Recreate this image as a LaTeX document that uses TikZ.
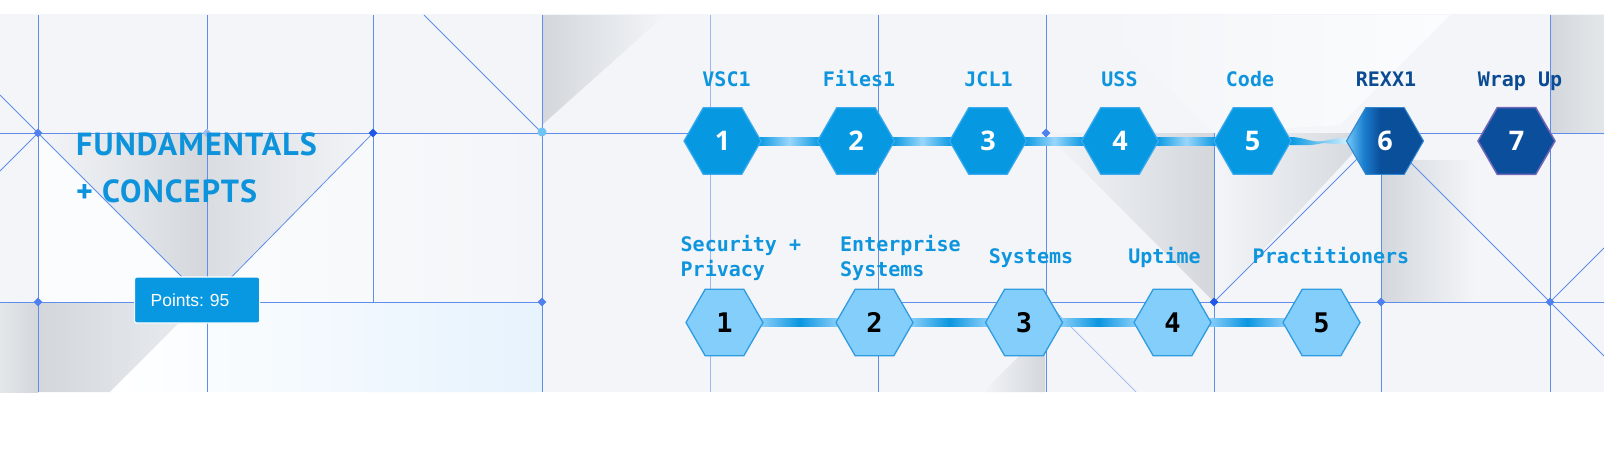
\documentclass[tikz,border=0pt]{standalone}
\usepackage{fontspec}
\usetikzlibrary{shapes.geometric,calc}
\newfontfamily\monof{DejaVu Sans Mono}
\newfontfamily\titlef{PT Sans}[LetterSpace=3.5]
\newfontfamily\digf{Open Sans}
\newfontfamily\ptsf{Liberation Sans}
\definecolor{bandc}{HTML}{F3F5F8}
\definecolor{whitec}{HTML}{FBFCFD}
\definecolor{grayd}{HTML}{D3D7DC}
\definecolor{graym}{HTML}{E4E7EA}
\definecolor{glc}{HTML}{5F8EEA}
\definecolor{glight}{HTML}{9BB8F2}
\definecolor{dotd}{HTML}{1F58E8}
\definecolor{dotm}{HTML}{4F80F0}
\definecolor{dotc}{HTML}{70C4F5}
\definecolor{labblue}{HTML}{0E95DD}
\definecolor{labdark}{HTML}{0B4B93}
\definecolor{hexblue}{HTML}{0798E2}
\definecolor{hexedge}{HTML}{3AAAF0}
\definecolor{hexlight}{HTML}{84CEFB}
\definecolor{hexledge}{HTML}{2F9BE0}
\definecolor{barlight}{HTML}{8ACFF9}
\definecolor{barmid}{HTML}{9AD6FA}
\definecolor{barblue}{HTML}{0A96E0}
\definecolor{hexseven}{HTML}{0B4F9C}
\definecolor{hexsevene}{HTML}{7266B7}
\definecolor{sixa}{HTML}{74C9F8}
\definecolor{sixb}{HTML}{1C7FD0}
\definecolor{sixc}{HTML}{0A4F9A}
\definecolor{sixe}{HTML}{2F86D2}
\definecolor{titlec}{HTML}{0C93DC}
\definecolor{ptsbox}{HTML}{0898E2}
\definecolor{lblue}{HTML}{DCEDFC}
\definecolor{fadec}{HTML}{D4F0FD}
\pgfdeclarehorizontalshading{hexsix}{100bp}{color(0bp)=(sixa); color(25bp)=(sixa); color(36bp)=(sixb); color(47bp)=(sixc); color(100bp)=(sixc)}
\pgfdeclarelayer{bgl}
\pgfdeclarelayer{connl}
\pgfsetlayers{bgl,connl,main}
\begin{document}
\begin{tikzpicture}[x=1pt,y=-1pt,
  gline/.style={draw=glc, line width=0.8pt},
  glinel/.style={draw=glight, line width=0.7pt},
  gdot/.style={fill=#1, shape=diamond, inner sep=0pt, minimum size=9pt},
  hexa/.style={regular polygon, regular polygon sides=6, minimum size=77pt, inner sep=0pt},
  digfont/.style={font=\digf\bfseries\fontsize{27}{27}\selectfont},
  tophex/.style={hexa, fill=hexblue, draw=hexedge, line width=1.2pt, text=white, digfont},
  bothex/.style={hexa, fill=hexlight, draw=hexledge, line width=1.3pt, text=black, font=\monof\bfseries\fontsize{27}{27}\selectfont},
  toplab/.style={font=\monof\bfseries\fontsize{20}{25}\selectfont, text=labblue, inner sep=0pt},
  titlest/.style={font=\titlef\bfseries\fontsize{32}{32}\selectfont, text=titlec, inner sep=0pt},
]
\useasboundingbox (0,0) rectangle (1604,472);
\begin{pgfonlayer}{bgl}
\fill[white] (0,0) rectangle (1604,472);
\fill[bandc] (0,14) rectangle (1604,392);
% left section shading
\fill[whitec] (38,133) -- (207,302) -- (38,302) -- cycle;
\shade[left color=whitec, right color=bandc] (373,133) -- (542,133) -- (542,302) -- (207,302) -- cycle;
\shade[left color=bandc, right color=grayd] (38,133) -- (207,133) -- (207,302) -- cycle;
\shade[left color=grayd!80!bandc, right color=bandc] (207,133) -- (373,133) -- (207,302) -- cycle;
\shade[left color=graym, right color=grayd] (0,302) rectangle (38,392);
\shade[left color=grayd, right color=graym!60!bandc] (38,302) -- (200,302) -- (110,392) -- (38,392) -- cycle;
\shade[left color=white, right color=lblue!70!white] (200,302) -- (542,302) -- (542,392) -- (110,392) -- cycle;
% middle and right shading
\shade[left color=grayd, right color=bandc] (542,15) -- (665,15) -- (542,125) -- cycle;
\shade[left color=bandc, right color=whitec] (1096,15) -- (1450,15) -- (1340,125) -- (1214,133) -- cycle;
\shade[left color=bandc, right color=grayd] (1046,133) -- (1214,133) -- (1214,302) -- cycle;
\shade[left color=bandc, right color=grayd] (1214,133) -- (1372,133) -- (1214,302) -- cycle;
\shade[left color=grayd, right color=bandc] (1381,160) rectangle (1475,302);
\shade[left color=grayd, right color=graym] (1550,15) rectangle (1604,133);
\shade[left color=bandc, right color=grayd] (983,392) -- (1045,330) -- (1045,392) -- cycle;
% grid lines
\foreach \gx in {38,207,542,878,1046,1550} \draw[gline] (\gx,15) -- (\gx,392);
\draw[glinel] (710,15) -- (710,392);
\draw[gline] (373,15) -- (373,302);
\draw[gline] (1214,133) -- (1214,392);
\draw[gline] (1381,133) -- (1381,392);
\draw[gline] (0,133) -- (690,133);
\draw[gline] (1385,133) -- (1604,133);
\draw[gline] (0,302) -- (542,302);
\draw[gline] (879,302) -- (1604,302);
% diagonals
\draw[gline] (0,95) -- (207,302);
\draw[gline] (0,171) -- (38,133);
\draw[gline] (373,133) -- (207,302);
\draw[gline] (424,15) -- (542,133);
\draw[gline] (1214,302) -- (1372,144);
\draw[gline] (1381,133) -- (1604,356);
\draw[gline] (1550,302) -- (1604,248);
\draw[glinel] (1046,302) -- (1136,392);
% dots
\node[gdot=dotm] (d1) at (38,133) {};
\node[gdot=glight] (d2) at (207,133) {};
\node[gdot=dotd] (d3) at (373,133) {};
\node[circle, fill=dotc, inner sep=0pt, minimum size=9pt] (d4) at (542,132) {};
\node[gdot=dotm] (d5) at (38,302) {};
\node[gdot=dotm] (d6) at (542,302) {};
\node[gdot=dotm] (d7) at (1046,133) {};
\node[gdot=dotd] (d8) at (1214,302) {};
\node[gdot=dotm] (d9) at (1381,302) {};
\node[gdot=dotm] (d10) at (1550,302) {};
\end{pgfonlayer}

% title and points
\node[titlest, anchor=base west] (title1) at (76,155) {FUNDAMENTALS};
\node[titlest, anchor=base west] (title2) at (76,202) {+ CONCEPTS};
\node[anchor=west, fill=ptsbox, draw=white, line width=1.2pt, rounded corners=2pt,
      text width=93pt, inner xsep=16pt, inner ysep=0pt, minimum height=46pt, align=left,
      text=white, font=\ptsf\fontsize{17.5}{18}\selectfont] (pts) at (134,300) {Points:\ 95};

% top row
\node[tophex] (t1) at (722.5,141) {1};
\node[tophex] (t2) at (856,141) {2};
\node[tophex] (t3) at (988,141) {3};
\node[tophex] (t4) at (1120,141) {4};
\node[tophex] (t5) at (1252.5,141) {5};
\node[hexa, shade, shading=hexsix, draw=sixe, line width=1pt, text=white, digfont] (t6) at (1385,141) {6};
\node[hexa, fill=hexseven, draw=hexsevene, line width=1.5pt, text=white, digfont] (t7) at (1516.5,141) {7};

\node[toplab, anchor=base] (l1) at (726.5,86) {VSC1};
\node[toplab, anchor=base] (l2) at (859,86) {Files1};
\node[toplab, anchor=base] (l3) at (988.5,86) {JCL1};
\node[toplab, anchor=base] (l4) at (1119.5,86) {USS};
\node[toplab, anchor=base] (l5) at (1250,86) {Code};
\node[toplab, anchor=base, text=labdark] (l6) at (1386,86) {REXX1};
\node[toplab, anchor=base, text=labdark] (l7) at (1520,86) {Wrap Up};

% bottom row
\node[bothex] (b1) at (724.5,322.5) {1};
\node[bothex] (b2) at (874.5,322.5) {2};
\node[bothex] (b3) at (1024,322.5) {3};
\node[bothex] (b4) at (1172.5,322.5) {4};
\node[bothex] (b5) at (1321.5,322.5) {5};

\node[toplab, anchor=north west, align=left] (m1) at (680.5,235) {Security +\\Privacy};
\node[toplab, anchor=north west, align=left] (m2) at (840,235) {Enterprise\\Systems};
\node[toplab, anchor=base] (m3) at (1031,263) {Systems};
\node[toplab, anchor=base] (m4) at (1164.5,263) {Uptime};
\node[toplab, anchor=base] (m5) at (1331,263) {Practitioners};

% connectors
\begin{pgfonlayer}{connl}
\foreach \a/\b in {t1/t2,t2/t3,t3/t4,t4/t5}
  \shade[left color=hexblue, right color=hexblue, middle color=barmid] ($(\a.east)+(-3,-4)$) rectangle ($(\b.west)+(3,4)$);
\foreach \a/\b in {b1/b2,b2/b3,b3/b4,b4/b5}
  \shade[left color=barlight, right color=barlight, middle color=barblue] ($(\a.east)+(-3,-4)$) rectangle ($(\b.west)+(3,4)$);
\shade[left color=hexblue, right color=fadec]
  ($(t5.east)+(-2,-4)$) .. controls ($(t5.east)+(14,-4)$) and ($(t5.east)+(18,2)$) .. ($(t5.east)+(32,0)$)
  .. controls ($(t5.east)+(42,-2)$) and ($(t6.west)+(-10,-3)$) .. ($(t6.west)+(2,-3)$)
  -- ($(t6.west)+(2,3)$)
  .. controls ($(t6.west)+(-10,3)$) and ($(t5.east)+(42,3)$) .. ($(t5.east)+(32,2)$)
  .. controls ($(t5.east)+(18,5)$) and ($(t5.east)+(14,4)$) .. ($(t5.east)+(-2,4)$) -- cycle;
\end{pgfonlayer}
\end{tikzpicture}
\end{document}
